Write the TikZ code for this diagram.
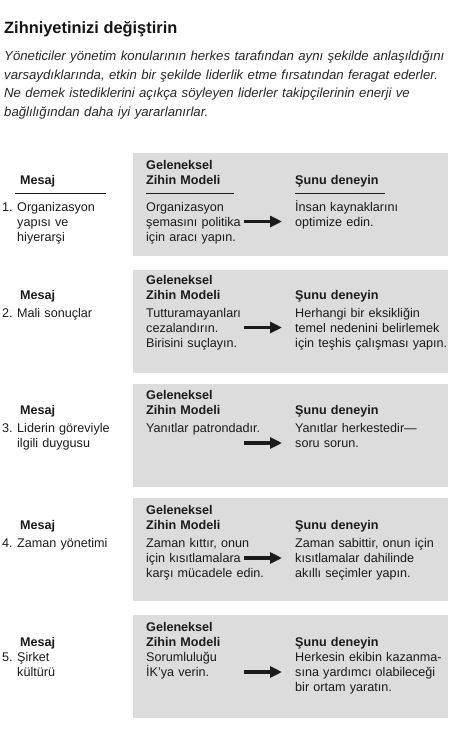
\documentclass[tikz,border=0pt]{standalone}
\usepackage{fontspec}
\setmainfont{Liberation Sans}
\usetikzlibrary{arrows.meta}
\definecolor{panelgray}{RGB}{220,220,220}
\definecolor{ink}{RGB}{28,26,27}
\definecolor{paraink}{RGB}{40,40,40}
\tikzset{
  bodytext/.style={anchor=base west, inner sep=0pt, align=left, text width=170pt,
    font=\fontsize{12.6}{15}\selectfont, text=ink},
  headtext/.style={anchor=base west, inner sep=0pt, align=left, text width=120pt,
    font=\bfseries\fontsize{12.6}{15}\selectfont, text=ink},
  panelbox/.style={fill=panelgray, draw=none, inner sep=0pt, anchor=north west,
    minimum width=315pt, minimum height=103pt},
  rulestyle/.style={draw=ink, line width=0.8pt},
  arrowstyle/.style={draw=ink, line width=3.4pt, -{Triangle[length=12pt,width=11pt]}},
}
% #1 id, #2 top, #3 number, #4 left text, #5 model text, #6 try text,
% #7 heading offset, #8 body offset, #9 arrow line index (0-based)
\newcommand\mypanel[9]{%
  \node[panelbox] (p#1) at (133,#2) {};
  \node[headtext] (g#1) at (146,{#2+#7}) {Geleneksel\\Zihin Modeli};
  \node[headtext] (m#1) at (20,{#2+#7+15}) {Mesaj};
  \node[headtext] (s#1) at (295,{#2+#7+15}) {Şunu deneyin};
  \node[bodytext] (n#1) at (2,{#2+#8}) {#3.};
  \node[bodytext] (l#1) at (17,{#2+#8}) {#4};
  \node[bodytext] (c#1) at (146,{#2+#8}) {#5};
  \node[bodytext] (t#1) at (295,{#2+#8}) {#6};
  \coordinate (as#1) at (244,{#2+#8+15*#9-4.5});
  \coordinate (ae#1) at (282,{#2+#8+15*#9-4.5});
  \draw[arrowstyle] (as#1) -- (ae#1);
}
\begin{document}
\begin{tikzpicture}[x=1pt,y=-1pt]
\useasboundingbox (0,0) rectangle (454,744);
\node[anchor=base west, inner sep=0pt, font=\bfseries\fontsize{16.4}{20}\selectfont, text=black!92] (title) at (4,33.3) {Zihniyetinizi değiştirin};
\node[anchor=base west, inner sep=0pt, align=left, text width=452pt,
  font=\itshape\fontsize{13.2}{18.5}\selectfont, text=paraink] (para) at (4,60.5)
  {Yöneticiler yönetim konularının herkes tarafından aynı şekilde anlaşıldığını\\
   varsaydıklarında, etkin bir şekilde liderlik etme fırsatından feragat ederler.\\
   Ne demek istediklerini açıkça söyleyen liderler takipçilerinin enerji ve\\
   bağlılığından daha iyi yararlanırlar.};

\mypanel{1}{153}{1}{Organizasyon\\yapısı ve\\hiyerarşi}
  {Organizasyon\\şemasını politika\\için aracı yapın.}
  {İnsan kaynaklarını\\optimize edin.}{16.5}{58}{1}
\coordinate (r1a) at (15,193);  \coordinate (r1b) at (106,193);
\coordinate (r2a) at (146,193); \coordinate (r2b) at (234,193);
\coordinate (r3a) at (295,193); \coordinate (r3b) at (385,193);
\draw[rulestyle] (r1a) -- (r1b);
\draw[rulestyle] (r2a) -- (r2b);
\draw[rulestyle] (r3a) -- (r3b);

\mypanel{2}{270}{2}{Mali sonuçlar}
  {Tutturamayanları\\cezalandırın.\\Birisini suçlayın.}
  {Herhangi bir eksikliğin\\temel nedenini belirlemek\\için teşhis çalışması yapın.}{14.5}{47}{1}

\mypanel{3}{384}{3}{Liderin göreviyle\\ilgili duygusu}
  {Yanıtlar patrondadır.}
  {Yanıtlar herkestedir—\\soru sorun.}{15.5}{48.5}{1}

\mypanel{4}{498}{4}{Zaman yönetimi}
  {Zaman kıttır, onun\\için kısıtlamalara\\karşı mücadele edin.}
  {Zaman sabittir, onun için\\kısıtlamalar dahilinde\\akıllı seçimler yapın.}{16.5}{49.5}{1}

\mypanel{5}{615}{5}{Şirket\\kültürü}
  {Sorumluluğu\\İK’ya verin.}
  {Herkesin ekibin kazanma-\\sına yardımcı olabileceği\\bir ortam yaratın.}{16.5}{46.5}{1}
\end{tikzpicture}
\end{document}
